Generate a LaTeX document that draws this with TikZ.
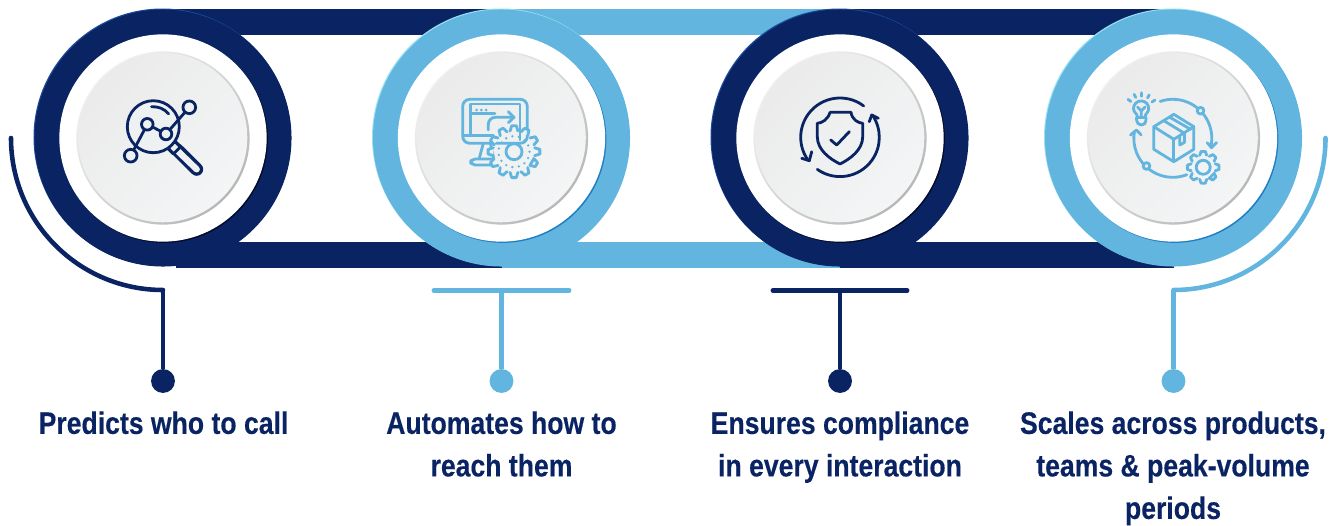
\documentclass[tikz,border=0pt]{standalone}
\usepackage{fontspec}
\setmainfont{Liberation Sans}[FakeStretch=0.855, BoldFeatures={FakeBold=0.35}]
\usetikzlibrary{calc}
\definecolor{navy}{HTML}{0A2463}
\definecolor{sky}{HTML}{62B5DE}
\definecolor{navyhi}{HTML}{1C4C9E}
\definecolor{navylo}{HTML}{020A2A}
\definecolor{skyhi}{HTML}{95E0F6}
\definecolor{skylo}{HTML}{1F7DC4}
\definecolor{discc}{HTML}{EEF1F2}
\tikzset{
	band/.style = {line width = 14.6pt},
	stem/.style = {line width = 2.8pt},
	sweep/.style = {line width = 2.6pt, line cap = round},
	tbar/.style = {line width = 2.8pt, line cap = round},
	iconline/.style = {line width = 1.6pt, line cap = round, line join = round},
	dotend/.style = {circle, fill, inner sep = 0, minimum size = 13.6pt},
	blob/.style = {circle, inner sep = 0, minimum size = #1},
	steptext/.style = {anchor = north, align = center, inner sep = 0, text = navy,
		font = \fontsize{17.7}{24.2}\selectfont\bfseries},
	minidot/.style = {circle, draw, inner sep = 0, minimum size = #1, fill = discc}
}
\newcommand{\gearwheel}[6]{
	% centre, outer, root, hub, teeth
	\pgfmathsetmacro{\gearstep}{360/#5}
	\pgfmathsetmacro{\gearlast}{#5-1}
	\draw [iconline, #6, fill = discc] \foreach \k in {0,...,\gearlast} {
		($(#1)+({\k*\gearstep-0.36*\gearstep}:#3)$) -- ($(#1)+({\k*\gearstep-0.17*\gearstep}:#2)$)
		-- ($(#1)+({\k*\gearstep+0.17*\gearstep}:#2)$) -- ($(#1)+({\k*\gearstep+0.36*\gearstep}:#3)$)
	} -- cycle;
	\draw [iconline, #6] (#1) circle (#4);
}
\begin{document}
\begin{tikzpicture}[x = 0.02cm, y = 0.02cm]
	\useasboundingbox (0,0) rectangle (1335,525);
	\coordinate (ca) at (163,387);
	\coordinate (cb) at (501.5,387);
	\coordinate (cc) at (840,387);
	\coordinate (cd) at (1173.5,387);

	\draw [band, navy] ([shift={(13,116.2)}]ca) -- ([shift={(0,116.2)}]cb);
	\draw [band, navy] ([shift={(13,-116.7)}]ca) -- ([shift={(0,-116.7)}]cb);
	\draw [band, sky] ([shift={(0,116.2)}]cb) -- ([shift={(0,116.2)}]cc);
	\draw [band, sky] ([shift={(0,-116.7)}]cb) -- ([shift={(0,-116.7)}]cc);
	\draw [band, navy] ([shift={(0,116.2)}]cc) -- ([shift={(0,116.2)}]cd);
	\draw [band, navy] ([shift={(0,-116.7)}]cc) -- ([shift={(0,-116.7)}]cd);

	\foreach \nm/\col/\hi/\lo in {a/navy/navyhi/navylo, b/sky/skyhi/skylo, c/navy/navyhi/navylo, d/sky/skyhi/skylo} {
		\node [blob = 146.5pt, fill = \hi] (glow\nm) at ([shift={(-0.8,0.8)}]c\nm) {};
		\node [blob = 146.3pt, fill = \col] (ring\nm) at (c\nm) {};
		\node [blob = 118pt, fill = \lo] (shade\nm) at ([shift={(1.2,-1.2)}]c\nm) {};
		\node [blob = 118pt, fill = white] (hole\nm) at (c\nm) {};
		\node [blob = 98.6pt, top color = white!95!black, bottom color = black!28, shading angle = 45] (rim\nm) at (c\nm) {};
		\node [blob = 96.4pt, top color = black!8, bottom color = discc!70!white, shading angle = 45] (disc\nm) at ([shift={(-0.4,0.4)}]c\nm) {};
	}

	\coordinate (arca) at (163,235);
	\coordinate (bara) at (434,234.5);
	\coordinate (barb) at (569,234.5);
	\coordinate (barc) at (773,234.5);
	\coordinate (bard) at (907,234.5);
	\coordinate (arcd) at (1173.5,235);
	\node [dotend, navy] (dota) at (163,144) {};
	\node [dotend, sky] (dotb) at (501.5,144) {};
	\node [dotend, navy] (dotc) at (840,144) {};
	\node [dotend, sky] (dotd) at (1173.5,144) {};

	\draw [sweep, navy] (arca) arc (270:180:152) ;
	\draw [sweep, sky] (arcd) arc (-90:0:152);
	\draw [stem, navy] (arca) -- (dota);
	\draw [stem, sky] (arcd) -- (dotd);
	\draw [tbar, sky] (bara) -- (barb);
	\draw [tbar, navy] (barc) -- (bard);
	\draw [stem, sky] (501.5,234.5) -- (dotb);
	\draw [stem, navy] (840,234.5) -- (dotc);

	\node [steptext] (labela) at (163.5,114) {Predicts who to call};
	\node [steptext] (labelb) at (501.5,114) {Automates how to\\reach them};
	\node [steptext] (labelc) at (840,114) {Ensures compliance\\in every interaction};
	\node [steptext] (labeld) at (1173,114) {Scales across products,\\teams \& peak-volume\\periods};

	\begin{scope}[shift = {(163,387)}, navy]
		\draw [line width = 7.4pt] (8.7,-7.1) -- (14,-12.4);
		\draw [line width = 7.4pt, line cap = round] (14.3,-12) -- (33.7,-31.3);
		\draw [line width = 3.6pt, discc, line cap = round] (10,-8.4) -- (33.7,-31.3);
		\draw [iconline] (14,-12.4) -- +(-45:0) ++(45:3.6) -- ++(-135:7.2);
		\draw [iconline, fill = discc] (-9.7,11.3) circle (26);
		\draw [iconline] ($(-9.7,11.3)+(95:20)$) arc (95:40:20);
		\node [minidot = 6.6pt, iconline] (pta) at (-15.7,13.7) {};
		\node [minidot = 6.6pt, iconline] (ptb) at (3,4) {};
		\node [minidot = 7.2pt, iconline] (ptc) at (26.3,30.7) {};
		\node [minidot = 7.2pt, iconline] (ptd) at (-32.3,-17.7) {};
		\draw [iconline] (ptd) -- (pta);
		\draw [iconline] (pta) -- (ptb);
		\draw [iconline] (ptb) -- (ptc);
	\end{scope}

	\begin{scope}[shift = {(501.5,387)}, sky]
		\draw [iconline, rounded corners = 4pt] (25.8,-5.3) -- (25.8,38.7) -- (-38.8,38.7) -- (-38.8,-5.3) -- cycle;
		\draw [iconline] (-30.8,2.3) -- (-30.8,34) -- (18.5,34) -- (18.5,-2);
		\draw [iconline] (-38.8,2.3) -- (-8,2.3);
		\draw [iconline] (-30.8,24.7) -- (-6.5,24.7);
		\foreach \px in {-24.8,-20.2,-15.5}
			\fill (\px,28) circle (1.5);
		\draw [iconline, rounded corners = 4pt] (-13.2,8) -- (-13.2,20.7) -- (12.5,20.7);
		\draw [iconline] (6.8,26.3) -- (12.5,20.7) -- (6.8,15.3);
		\draw [iconline] (-18.2,-5.3) -- (-22.2,-20.3);
		\draw [iconline] (-11,-5.3) -- (-8,-20.3);
		\draw [iconline, rounded corners = 2.5pt] (-8,-21) -- (-30.8,-21) -- (-30.8,-27) -- (-6.5,-27);
		\gearwheel{12.5,-13.7}{26}{21}{8}{12}{sky}
		\foreach \ang in {0,24,...,336}
			\fill ($(12.5,-13.7)+(\ang:15.5)$) circle (1.3);
	\end{scope}

	\begin{scope}[shift = {(840,387)}, navy]
		\draw [iconline] (-10,25.7) -- (11,25.7) .. controls (12,18.5) and (18,15) .. (22.7,14.7) -- (22.7,1.3)
			.. controls (22.7,-12) and (10,-21) .. (0,-26) .. controls (-10,-21) and (-22.7,-12) .. (-22.7,1.3)
			-- (-22.7,14.7) .. controls (-18,15) and (-12,18.5) .. (-10,25.7);
		\draw [iconline] (-9.3,-2) -- (-3.3,-7) -- (9.3,6.3);
		\draw [iconline] ($(0,0.7)+(53:39.3)$) arc (53:215:39.3);
		\draw [iconline] (-38.3,-20.3) -- (-30.7,-22.7) -- (-28.3,-13.7);
		\draw [iconline] ($(0,0.7)+(234.7:39.3)$) arc (234.7:394:39.3);
		\draw [iconline] (29.3,16.3) -- (31.7,23) -- (38.3,19.7);
	\end{scope}

	\begin{scope}[shift = {(1173.5,387)}, sky]
		\draw [iconline] (0.3,23.7) -- (20.3,11.3) -- (20.3,-11.3) -- (0.3,-23.7) -- (-19.7,-11.3) -- (-19.7,11.3) -- cycle;
		\draw [iconline] (-19.7,11.3) -- (0.3,-1.3) -- (20.3,11.3);
		\draw [iconline] (0.3,-1.3) -- (0.3,-23.7);
		\draw [iconline] (-9.7,17.3) -- (11,4.7) -- (11,-4.3) -- (6.3,-7) -- (6.3,2);
		\draw [iconline] (-3.7,20.7) -- (17,8.7);
		\draw [iconline] (-36,20.5) .. controls (-36,25) and (-40,25) .. (-40,29.5) arc (180:0:7.6)
			.. controls (-24.8,25) and (-28.5,25) .. (-28.5,20.5) -- cycle;
		\draw [iconline, rounded corners = 1.5pt] (-37,20.5) -- (-37,16) -- (-34,13) -- (-30,13) -- (-27.5,16) -- (-27.5,20.5);
		\draw [iconline] (-32.3,21) -- (-32.3,27) -- (-36,31);
		\draw [iconline] (-32.3,27) -- (-28.5,31);
		\foreach \ang in {34,61,90,115,143}
			\draw [iconline] ($(-32.3,28.7)+(\ang:13)$) -- ($(-32.3,28.7)+(\ang:16.5)$);
		\draw [iconline] ($(-0.7,-0.3)+(109:39)$) arc (109:-10:39);
		\draw [iconline] (33.7,-4.7) -- (38,-9.7) -- (43,-4.7);
		\draw [iconline] ($(-0.7,-0.3)+(-69:39)$) arc (-69:-190:39);
		\draw [iconline] (-43,3) -- (-37,8) -- (-32.3,3);
		\node [minidot = 3.8pt, iconline] (ptg) at (27,27.3) {};
		\node [minidot = 3.8pt, iconline] (pth) at (-27,-28) {};
		\gearwheel{29.7,-29.3}{16}{12.5}{7}{8}{sky}
	\end{scope}
\end{tikzpicture}
\end{document}
